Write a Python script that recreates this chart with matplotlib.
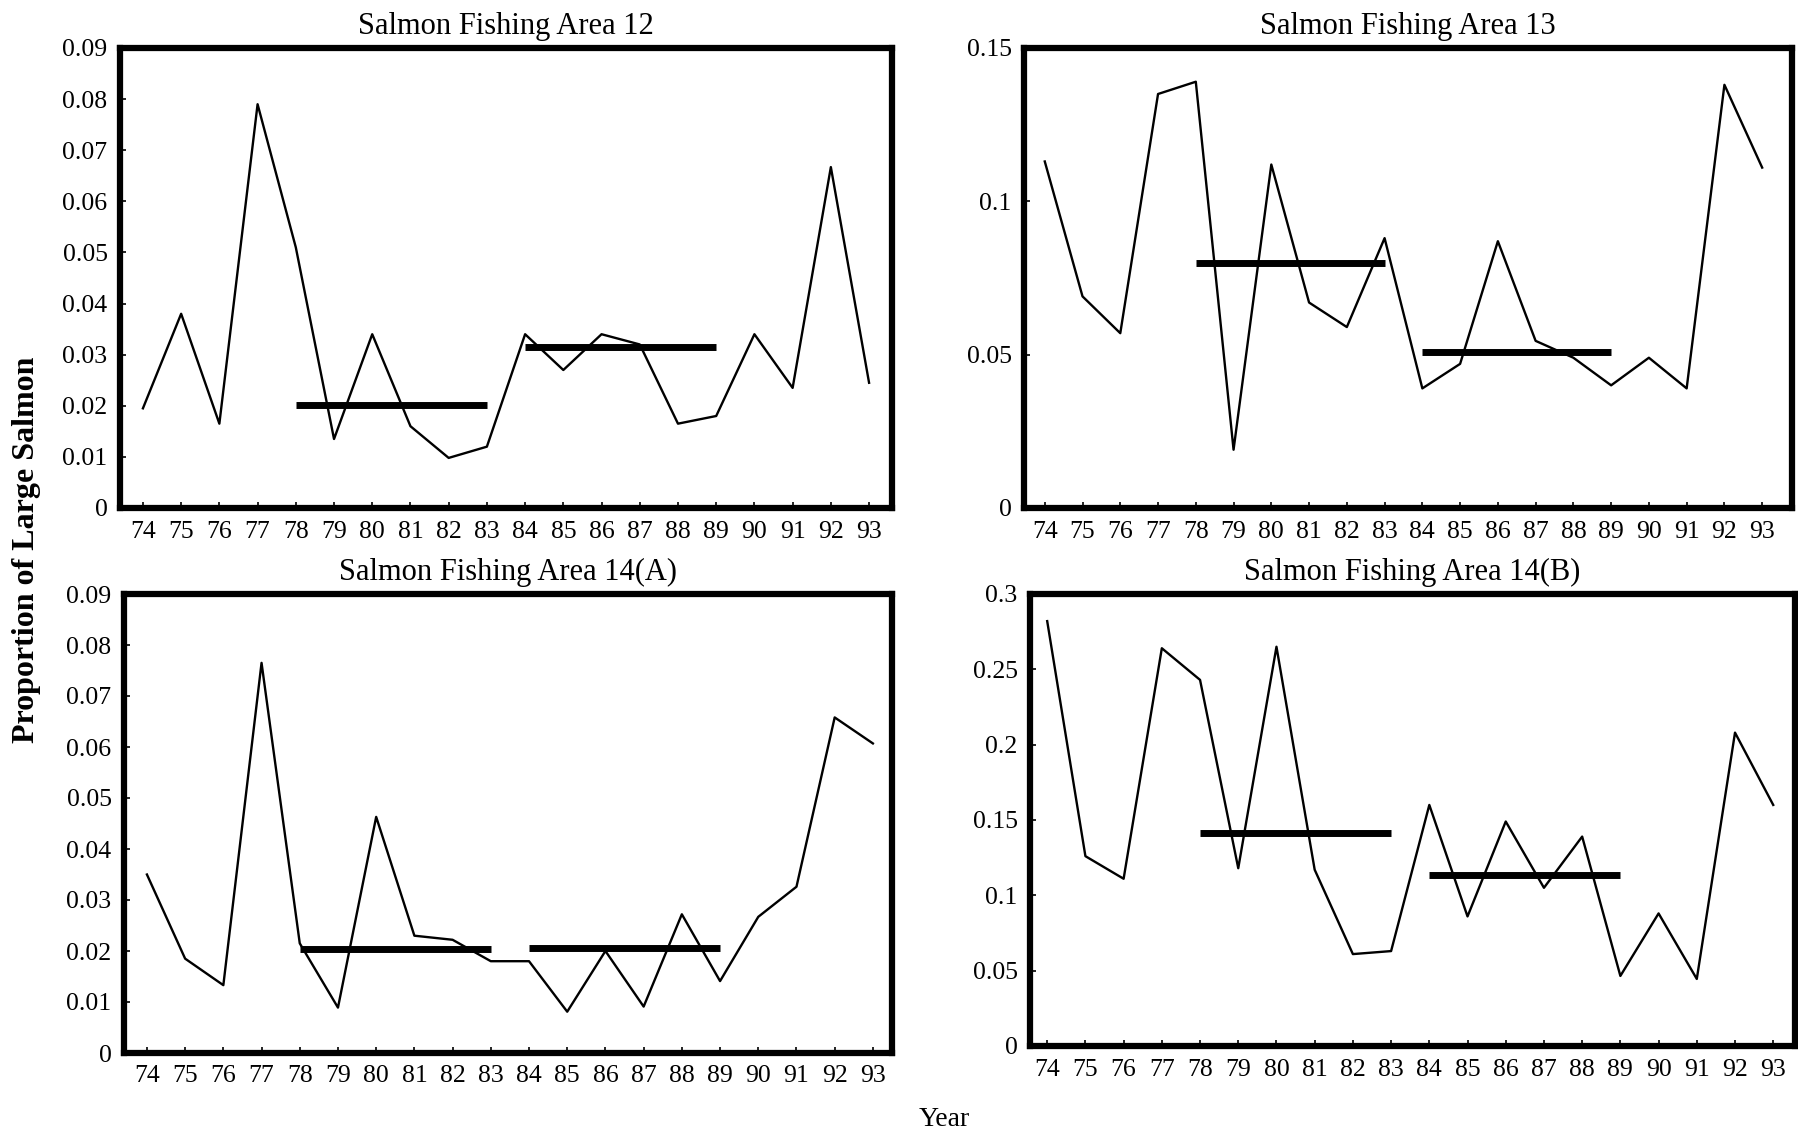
import matplotlib.pyplot as plt

plt.rcParams['font.family'] = ['Liberation Serif', 'DejaVu Serif']

years = list(range(74, 94))
year_labels = [str(y) for y in years]

# proportion of large salmon per year
sfa12 = [0.0195, 0.038, 0.0165, 0.079, 0.051, 0.0135, 0.034, 0.016, 0.0098, 0.012,
         0.034, 0.027, 0.034, 0.032, 0.0165, 0.018, 0.034, 0.0235, 0.0667, 0.0245]
sfa13 = [0.113, 0.069, 0.057, 0.135, 0.139, 0.019, 0.112, 0.067, 0.059, 0.088,
         0.039, 0.047, 0.087, 0.0545, 0.049, 0.040, 0.049, 0.039, 0.138, 0.111]
sfa14a = [0.035, 0.0185, 0.0133, 0.0765, 0.0215, 0.0089, 0.0463, 0.023, 0.0222, 0.018,
          0.018, 0.0081, 0.020, 0.0091, 0.0272, 0.0141, 0.0267, 0.0326, 0.0658, 0.0607]
sfa14b = [0.282, 0.126, 0.111, 0.264, 0.243, 0.118, 0.265, 0.117, 0.061, 0.063,
          0.160, 0.086, 0.149, 0.105, 0.139, 0.0465, 0.088, 0.0445, 0.208, 0.160]

# period means (1978-83 and 1984-89)
periods = [(78, 83), (84, 89)]
means12 = [0.0201, 0.0315]
means13 = [0.080, 0.051]
means14a = [0.0203, 0.0205]
means14b = [0.1415, 0.1135]

titles = ["Salmon Fishing Area 12", "Salmon Fishing Area 13",
          "Salmon Fishing Area 14(A)", "Salmon Fishing Area 14(B)"]

yticks_small = [0, 0.01, 0.02, 0.03, 0.04, 0.05, 0.06, 0.07, 0.08, 0.09]
ylabels_small = ["0", "0.01", "0.02", "0.03", "0.04", "0.05", "0.06", "0.07", "0.08", "0.09"]
yticks_13 = [0, 0.05, 0.1, 0.15]
ylabels_13 = ["0", "0.05", "0.1", "0.15"]
yticks_14b = [0, 0.05, 0.1, 0.15, 0.2, 0.25, 0.3]
ylabels_14b = ["0", "0.05", "0.1", "0.15", "0.2", "0.25", "0.3"]

W, H = 1798, 1139
fig = plt.figure(figsize=(W / 100, H / 100), dpi=100)


def px_axes(left, right, top, bottom):
    # axes box given in pixel coords of the picture
    return fig.add_axes([left / W, 1 - bottom / H, (right - left) / W, (bottom - top) / H])


panels = [
    (px_axes(120, 892, 48, 508), sfa12, means12, yticks_small, ylabels_small, 0.09, (73.4, 93.6)),
    (px_axes(1024, 1792, 48, 508), sfa13, means13, yticks_13, ylabels_13, 0.15, (73.45, 93.79)),
    (px_axes(124, 892, 594, 1053), sfa14a, means14a, yticks_small, ylabels_small, 0.09, (73.4, 93.5)),
    (px_axes(1030, 1795, 594, 1046), sfa14b, means14b, yticks_14b, ylabels_14b, 0.3, (73.55, 93.57)),
]

for (ax, vals, means, yt, yl, ytop, xl), title in zip(panels, titles):
    ax.plot(years, vals, color='black', lw=1.7)
    for (a, b), m in zip(periods, means):
        ax.plot([a, b], [m, m], color='black', lw=5, solid_capstyle='butt')
    ax.set_xlim(*xl)
    ax.set_ylim(0, ytop)
    ax.set_xticks(years)
    ax.set_xticklabels(year_labels)
    ax.set_yticks(yt)
    ax.set_yticklabels(yl)
    ax.tick_params(direction='in', length=4, width=1.2, labelsize=18.5, pad=9)
    for s in ax.spines.values():
        s.set_linewidth(4.5)
    ax.set_title(title, fontsize=22, pad=10)

fig.text(27 / W, 1 - 550 / H, "Proportion of Large Salmon", rotation=90, ha='center', va='center',
         fontsize=23, fontweight='bold')
fig.text(944 / W, 1 - 1120 / H, "Year", ha='center', va='center', fontsize=20)

plt.savefig("out.png", dpi=100)
